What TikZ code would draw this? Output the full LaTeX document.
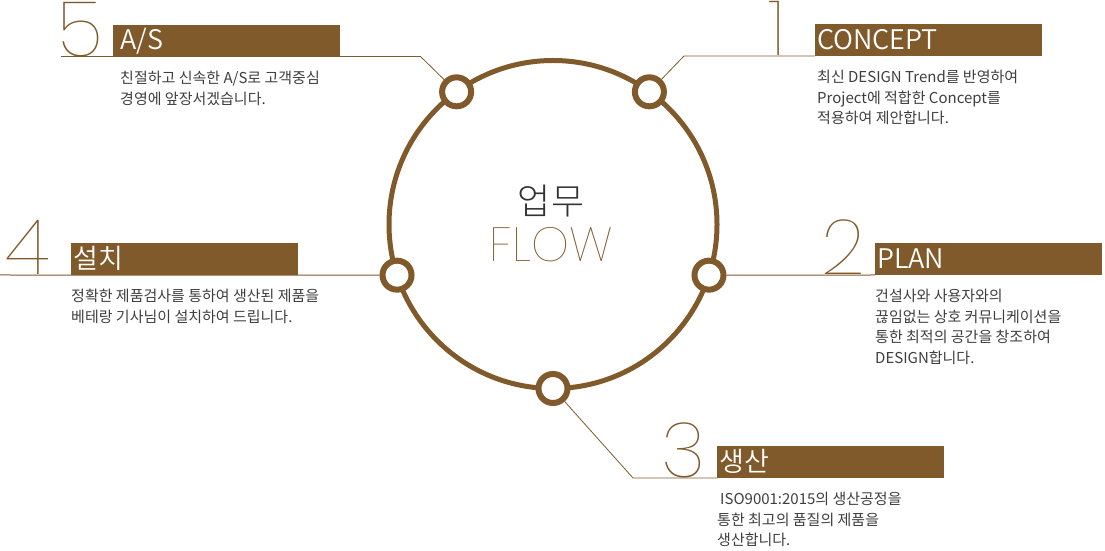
\documentclass[tikz,border=0pt]{standalone}
\usepackage{fontspec}
\usetikzlibrary{positioning,calc}
\setmainfont{Noto Sans CJK KR}
\newfontfamily\bodyfont{Noto Sans CJK KR}
\IfFontExistsTF{Noto Sans CJK KR DemiLight}{\newfontfamily\barfont{Noto Sans CJK KR DemiLight}}{\newfontfamily\barfont{Noto Sans CJK KR}}
\IfFontExistsTF{Noto Sans CJK KR Light}{\newfontfamily\lightfont{Noto Sans CJK KR Light}}{\newfontfamily\lightfont{Noto Sans CJK KR}}
\IfFontExistsTF{Poppins Thin}{\newfontfamily\thinfont{Poppins Thin}}{\newfontfamily\thinfont{Poppins}}
\definecolor{flowbrown}{RGB}{128,90,42}
\definecolor{flowtext}{RGB}{62,62,62}
\definecolor{flowdark}{RGB}{51,51,51}

\begin{document}
\begin{tikzpicture}[x=1pt,y=1pt,
  dot/.style={circle,draw=flowbrown,line width=6pt,fill=white,minimum size=29pt,inner sep=0pt},
  bar/.style={rectangle,fill=flowbrown,text=white,anchor=south west,minimum height=32pt,
    text width=223pt,inner xsep=2pt,inner ysep=0pt,align=left,font=\barfont\fontsize{27}{27}\selectfont},
  num/.style={anchor=base,inner sep=0pt,text=flowbrown,font=\thinfont\fontsize{77}{77}\selectfont},
  desc/.style={anchor=north west,inner sep=0pt,align=left,text=flowtext,font=\bodyfont\fontsize{15}{20.5}\selectfont},
  link/.style={draw=flowbrown,line width=1pt}]
  \useasboundingbox (0,0) rectangle (1105,551);
  % ring and its five stations
  \coordinate (C) at (553,326.5);
  \draw[flowbrown,line width=5pt] (C) circle (164);
  \foreach \i in {1,...,5}
    \path (C) ++({126-72*\i}:164) node[dot] (n\i) {};
  \node[font=\lightfont\fontsize{36}{36}\selectfont,text=flowdark] (ttl) at (551,350) {업무};
  \node[font=\thinfont\fontsize{48}{48}\selectfont,text=flowbrown] (flow) at (551,306) {FLOW};

  % 1 concept
  \node[num] (d1) at (777,495) {1};
  \node[bar] (b1) at (815,495) {CONCEPT};
  \node[desc] (t1) at (817,481) {최신 DESIGN Trend를 반영하여\\Project에 적합한 Concept를\\적용하여 제안합니다.};
  \coordinate (c1) at (684,495);
  \draw[link,line width=.8pt] (n1) -- (c1) -- (b1.south west);

  % 2 plan
  \node[num] (d2) at (843,276) {2};
  \node[bar] (b2) at (875,276) {PLAN};
  \node[desc] (t2) at (875,262) {건설사와 사용자와의\\끊임없는 상호 커뮤니케이션을\\통한 최적의 공간을 창조하여\\DESIGN합니다.};
  \draw[link] (n2) -- (b2.south west);

  % 3 production
  \node[num] (d3) at (684,73) {3};
  \node[bar] (b3) at (717,73) {생산};
  \node[desc] (t3) at (717,59) {\hspace{3pt}ISO9001:2015의 생산공정을\\통한 최고의 품질의 제품을\\생산합니다.};
  \coordinate (c3) at (633,73);
  \draw[link,line width=.8pt] (n3) -- (c3) -- (b3.south west);

  % 4 install
  \node[num] (d4) at (28,276) {4};
  \node[bar] (b4) at (71,276) {설치};
  \node[desc] (t4) at (71,262) {정확한 제품검사를 통하여 생산된 제품을\\베테랑 기사님이 설치하여 드립니다.};
  \coordinate (e4) at (0,276);
  \draw[link] (n4) -- (e4);

  % 5 after service
  \node[num] (d5) at (80,494) {5};
  \node[bar] (b5) at (113,494) {\hspace{5pt}A/S};
  \node[desc] (t5) at (120,480) {친절하고 신속한 A/S로 고객중심\\경영에 앞장서겠습니다.};
  \coordinate (c5) at (421,494);
  \coordinate (e5) at (61,494);
  \draw[link,line width=.8pt] (n5) -- (c5);
  \draw[link] (c5) -- (e5);
\end{tikzpicture}
\end{document}
